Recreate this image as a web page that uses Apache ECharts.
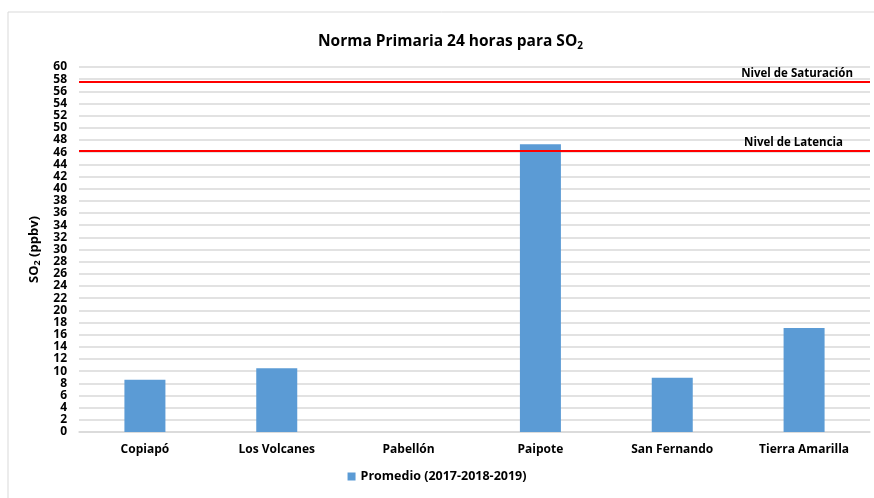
<!DOCTYPE html>
<html>
<head>
<meta charset="utf-8">
<script src="https://cdn.jsdelivr.net/npm/echarts@6/dist/echarts.min.js"></script>
<style>
  html, body { margin: 0; padding: 0; background: #fff; }
  #main { width: 874px; height: 498px; }
</style>
</head>
<body>
<div id="main"></div>
<script>
var estaciones = ['Copiapó', 'Los Volcanes', 'Pabellón', 'Paipote', 'San Fernando', 'Tierra Amarilla'];
var promedio = [8.6, 10.5, 0, 47.3, 8.9, 17.1];
var nivelSaturacion = 57.5;
var nivelLatencia = 46.3;

var fuente = 'Open Sans';
var myChart = echarts.init(document.getElementById('main'));

var option = {
    color: ['#5B9BD5'],
    animation: false,
    textStyle: { fontFamily: fuente },
    title: {
        text: '{t|Norma Primaria 24 horas para SO}{s|2}',
        left: 313,
        top: 27,
        textStyle: {
            rich: {
                t: { fontFamily: fuente, fontWeight: 'bold', fontSize: 15.5, color: '#000' },
                s: { fontFamily: fuente, fontWeight: 'bold', fontSize: 10, color: '#000', padding: [9, 0, 0, 0] }
            }
        }
    },
    graphic: [{
        type: 'rect',
        shape: { x: 8, y: 12, width: 900, height: 500 },
        style: { fill: 'none', stroke: '#d9d9d9', lineWidth: 1 },
        silent: true
    }],
    legend: {
        bottom: 10,
        left: 'center',
        itemWidth: 8,
        itemHeight: 8,
        itemGap: 4,
        icon: 'rect',
        textStyle: { fontFamily: fuente, fontWeight: 'bold', fontSize: 12.5, color: '#000' },
        data: ['Promedio (2017-2018-2019)']
    },
    grid: { left: 79, right: 4, top: 67, bottom: 66 },
    xAxis: {
        type: 'category',
        data: estaciones,
        axisTick: { show: false },
        axisLine: { lineStyle: { color: '#d9d9d9', width: 1.5 } },
        axisLabel: { fontFamily: fuente, fontWeight: 'bold', fontSize: 12, color: '#000', margin: 12 }
    },
    yAxis: {
        type: 'value',
        min: 0,
        max: 60,
        interval: 2,
        name: '{n|SO}{s|2}{n| (ppbv)}',
        nameLocation: 'middle',
        nameGap: 25,
        nameTextStyle: {
            rich: {
                n: { fontFamily: fuente, fontWeight: 'bold', fontSize: 13, color: '#000' },
                s: { fontFamily: fuente, fontWeight: 'bold', fontSize: 9, color: '#000', padding: [8, 0, 0, 0] }
            }
        },
        axisLine: { show: false },
        axisTick: { show: false },
        axisLabel: { fontFamily: fuente, fontWeight: 'bold', fontSize: 12, color: '#000', margin: 12 },
        splitLine: { lineStyle: { color: '#d9d9d9', width: 1.5 } }
    },
    series: [{
        name: 'Promedio (2017-2018-2019)',
        type: 'bar',
        barWidth: 41,
        data: promedio,
        markLine: {
            silent: true,
            symbol: 'none',
            lineStyle: { color: '#FF0000', width: 2, type: 'solid' },
            label: {
                position: 'insideEndTop',
                distance: [17, 2],
                fontFamily: fuente,
                fontWeight: 'bold',
                fontSize: 11.5,
                color: '#000'
            },
            data: [
                { yAxis: nivelSaturacion, label: { formatter: 'Nivel de Saturación' } },
                { yAxis: nivelLatencia, label: { formatter: 'Nivel de Latencia', distance: [27, 2] } }
            ]
        }
    }]
};

myChart.setOption(option);
</script>
</body>
</html>
